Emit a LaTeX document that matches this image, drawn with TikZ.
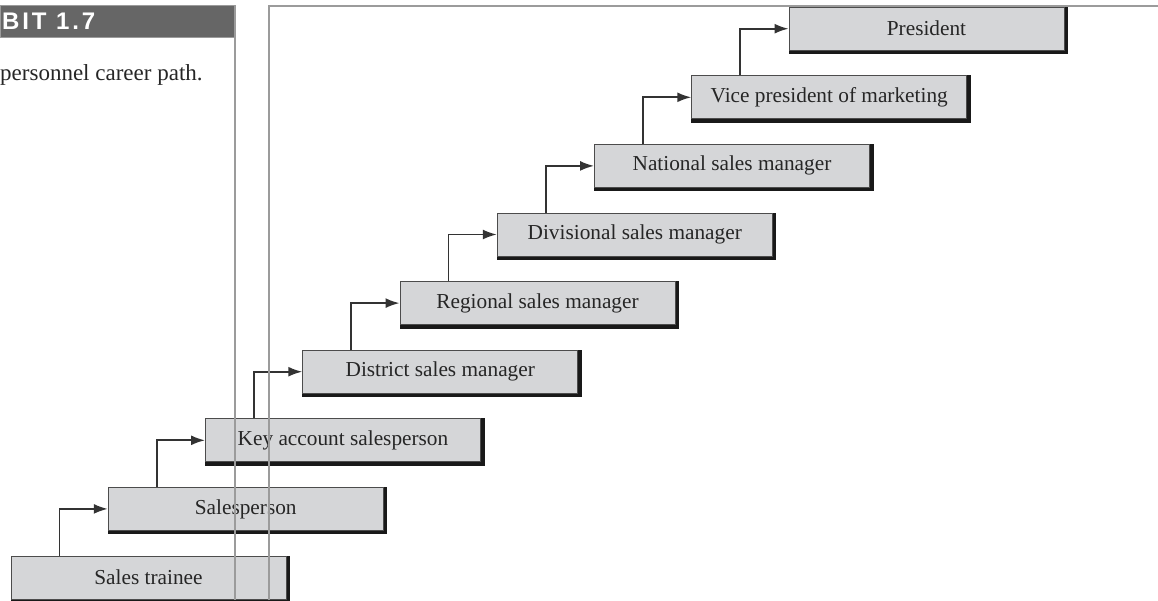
\documentclass[tikz,border=0pt]{standalone}
\usepackage{xcolor}
\usepackage{fontspec}
\setmainfont{Liberation Serif}
\newfontfamily\headfont[LetterSpace=12]{Liberation Sans}
\usetikzlibrary{arrows.meta,backgrounds}
\definecolor{boxgray}{HTML}{D5D6D8}
\definecolor{bargray}{HTML}{666666}
\definecolor{framegray}{HTML}{9B9B9B}
\tikzset{
  careerbox/.style={draw=black!70, line width=1pt, fill=boxgray, text=black!85,
    minimum width=275pt, minimum height=43pt, inner sep=0pt,
    font=\fontsize{21.3}{24}\selectfont},
  promote/.style={draw=black!80, line width=1.7pt, -{Latex[length=14pt,width=10pt]}},
  frameline/.style={draw=framegray, line width=1.7pt}
}

\begin{document}
\begin{tikzpicture}[x=1pt,y=-1pt]
\useasboundingbox (0,0) rectangle (1158,600);
% exhibit header and caption
\filldraw[fill=bargray, draw=framegray, line width=1pt] (0,5) rectangle (235,37);
\node[anchor=base west, inner sep=0pt, text=white,
  font=\headfont\bfseries\fontsize{24}{26}\selectfont] (head) at (2,29.5) {BIT 1.7};
\node[anchor=base west, inner sep=0pt, text=black!85,
  font=\fontsize{23}{27}\selectfont] (caption) at (0,80) {personnel career path.};
% the career steps
\foreach \job [count=\i] in {Sales trainee, Salesperson, Key account salesperson,
    District sales manager, Regional sales manager, Divisional sales manager,
    National sales manager, Vice president of marketing, President}
  \node[careerbox] (b\i) at ({148.5+(\i-1)*97.25},{577.5-(\i-1)*68.6}) {\job};
\begin{scope}[on background layer]
\foreach \i in {1,...,9}
  \fill[black!90] ([yshift=-3.5pt]b\i.south west) rectangle ([xshift=3.5pt]b\i.north east);
\end{scope}
% promotions
\foreach \i [count=\j from 2] in {1,...,8}
  \draw[promote] ([xshift=49pt]b\i.north west) |- (b\j.west);
% page frame
\draw[frameline] (235,5) -- (235,600);
\draw[frameline] (269,600) -- (269,6) -- (1158,6);
\end{tikzpicture}
\end{document}
